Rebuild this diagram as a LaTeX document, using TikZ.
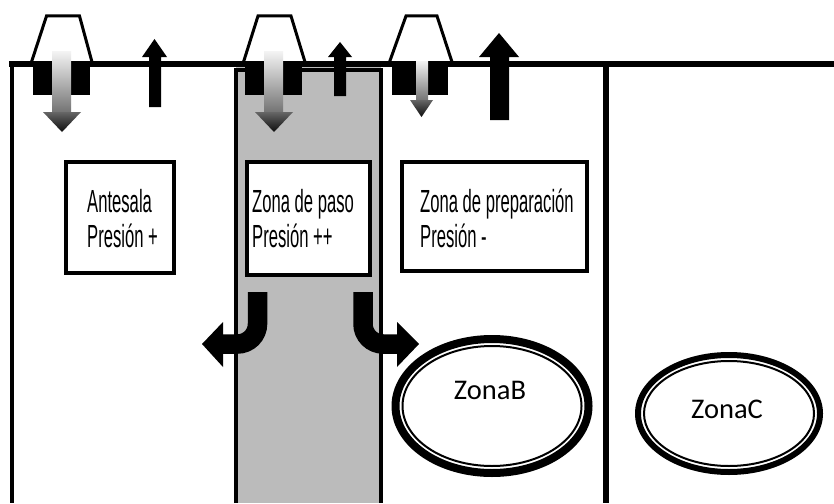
\documentclass[tikz,border=0pt]{standalone}
\usepackage{fontspec}
\usetikzlibrary{shapes.geometric}
\newfontfamily\boxfont[FakeStretch=0.52]{Liberation Sans}
\newfontfamily\ellfont{Carlito}
\definecolor{roomgray}{RGB}{187,187,187}
\begin{document}
\begin{tikzpicture}[x=1pt,y=-1pt,
  wall/.style={line width=4pt},
  hood/.style={line width=3pt, line join=miter},
  labelbox/.style={draw, fill=white, line width=4pt, inner sep=0pt, rectangle},
  boxtext/.style={font=\boxfont\fontsize{32}{36}\selectfont, anchor=base west, inner sep=0pt},
  ringtext/.style={font=\ellfont\fontsize{28.5}{30}\selectfont, inner sep=0pt},
  zonering/.style={draw, ellipse, inner sep=0pt},
  curvearrow/.style={line width=19.5pt, rounded corners=20pt},
  shaftshade/.style={top color=white!95!black, bottom color=black!55},
  headshade/.style={top color=black!60, bottom color=black!95}]
\useasboundingbox (0,0) rectangle (834,503);
\fill[white] (0,0) rectangle (834,503);
% gray room
\fill[roomgray] (235.5,67) rectangle (380.5,503);
\draw[wall] (235.5,503) -- (235.5,69.5) -- (380.5,69.5) -- (380.5,503);
% walls
\draw[wall] (11.5,64) -- (11.5,503);
\draw[line width=6pt] (606,64) -- (606,503);
\draw[line width=6pt] (9,64) -- (834,64);
% blocks under hoods
\fill (33,64) rectangle (90,95);
\fill (245,64) rectangle (302,95);
\fill (392,64) rectangle (448,95);
% hoods
\draw[hood] (31.5,62) -- (46.5,16) -- (79.5,16) -- (92,62);
\draw[hood] (243.5,62) -- (258,16) -- (291,16) -- (305,62);
\draw[hood] (389.5,62) -- (406,16) -- (437,16) -- (452,62);
% gradient down arrows
\shade[shaftshade] (52,52) rectangle (71,112.5);
\shade[headshade] (43,112) -- (81,112) -- (62,132) -- cycle;
\shade[shaftshade] (264,52) rectangle (283,112.5);
\shade[headshade] (255,112) -- (293,112) -- (274,132) -- cycle;
\shade[shaftshade] (416,61) rectangle (428,100.5);
\shade[headshade] (410,100) -- (433,100) -- (421.5,117) -- cycle;
% black up arrows
\fill (149,107) -- (149,57) -- (142,57) -- (154.5,39) -- (167,57) -- (161,57) -- (161,107) -- cycle;
\fill (334,96) -- (334,57) -- (328,57) -- (340,42) -- (352,57) -- (346,57) -- (346,96) -- cycle;
\fill (490,120) -- (490,57) -- (479,57) -- (499,33) -- (519,57) -- (509,57) -- (509,120) -- cycle;
% label boxes
\node[labelbox, minimum width=108pt, minimum height=111pt] (ante) at (120,217.5) {};
\node[labelbox, minimum width=123pt, minimum height=113pt] (paso) at (308.5,218.5) {};
\node[labelbox, minimum width=185pt, minimum height=109pt] (prep) at (494.5,216.5) {};
\node[boxtext] (ante1) at (87,212) {Antesala};
\node[boxtext] (ante2) at (87,247) {Presión +};
\node[boxtext] (paso1) at (252,212) {Zona de paso};
\node[boxtext] (paso2) at (252,247) {Presión ++};
\node[boxtext] (prep1) at (420,212) {Zona de preparación};
\node[boxtext] (prep2) at (420,247) {Presión -};
% curved arrows out of the gray room
\coordinate (lstart) at (257.5,292);
\coordinate (lend) at (221,344);
\coordinate (rstart) at (363,292);
\coordinate (rend) at (399,344);
\draw[curvearrow] (lstart) -- (257.5,344) -- (lend);
\fill (223,322) -- (202,344) -- (223,367) -- cycle;
\draw[curvearrow] (rstart) -- (363,344) -- (rend);
\fill (397,322) -- (419,344) -- (397,367) -- cycle;
% zones
\node[zonering, line width=8pt, minimum width=193pt, minimum height=134pt] (zb) at (492,406) {};
\draw[line width=2pt] (zb.center) ellipse [x radius=89.5, y radius=60];
\node[ringtext] (zbt) at (490,390) {ZonaB};
\node[zonering, line width=6pt, minimum width=182pt, minimum height=117pt] (zc) at (729,413.5) {};
\draw[line width=2pt] (zc.center) ellipse [x radius=85, y radius=52.5];
\node[ringtext] (zct) at (727,409) {ZonaC};
\end{tikzpicture}
\end{document}
